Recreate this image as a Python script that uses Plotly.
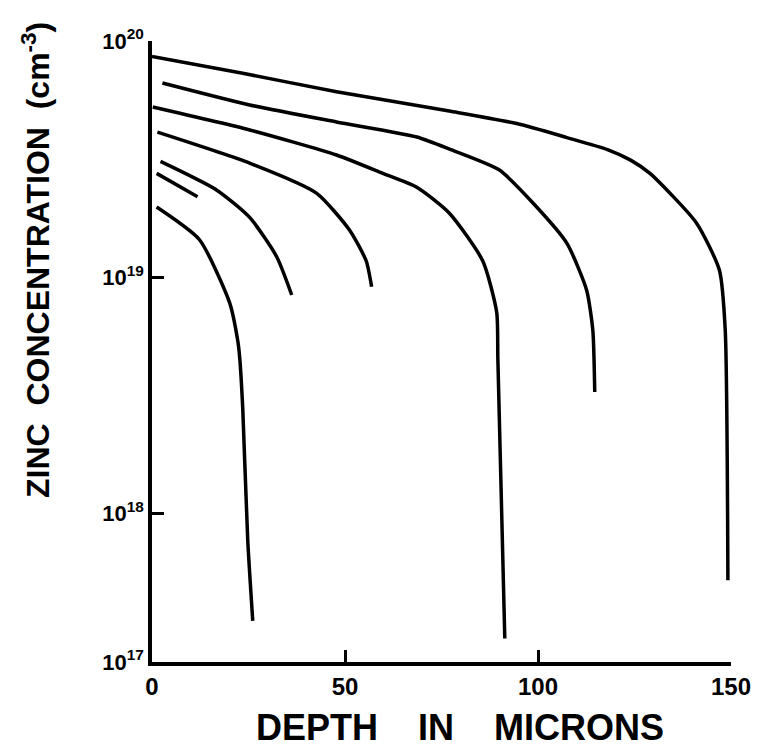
import plotly.graph_objects as go

# Depth (microns) and zinc concentration (cm^-3)
c1_x = [0, 23.5, 47.8, 77, 94.5, 107.5, 118, 124, 129, 141, 147, 148.5, 149.2]
c1_y = [8.6e19, 7.3e19, 6.1e19, 5.05e19, 4.47e19, 3.9e19, 3.47e19, 3.13e19, 2.75e19, 1.7e19, 1.07e19, 6.0e18, 5.2e17]

c2_x = [2.7, 25.3, 47.8, 68.6, 77.1, 90, 98.7, 107.5, 112.6, 114.2, 114.7]
c2_y = [6.64e19, 5.36e19, 4.54e19, 3.92e19, 3.48e19, 2.84e19, 2.06e19, 1.39e19, 8.8e18, 5.96e18, 3.26e18]

c3_x = [0.2, 25.3, 47.8, 59.8, 68.6, 77.1, 85.7, 89.3, 89.6, 91.4]
c3_y = [5.25e19, 4.2e19, 3.29e19, 2.75e19, 2.4e19, 1.86e19, 1.17e19, 7.1e18, 4.5e18, 2.95e17]

c4_x = [1.4, 25.3, 42.6, 51.2, 55.5, 56.9]
c4_y = [4.11e19, 3.04e19, 2.27e19, 1.58e19, 1.17e19, 9.1e18]

c5_x = [2.2, 16.7, 25.3, 32.3, 36.2]
c5_y = [3.09e19, 2.34e19, 1.79e19, 1.22e19, 8.4e18]

c6_x = [1.2, 11.8]
c6_y = [2.75e19, 2.19e19]

c7_x = [1.2, 12.3, 20.1, 22.2, 22.7, 23.5, 24.8, 26.1]
c7_y = [1.98e19, 1.44e19, 7.8e18, 5.4e18, 4.6e18, 2.8e18, 7.7e17, 3.5e17]

curves = [(c1_x, c1_y), (c2_x, c2_y), (c3_x, c3_y), (c4_x, c4_y),
          (c5_x, c5_y), (c6_x, c6_y), (c7_x, c7_y)]

y_bottom_log = 17.37
y_tick_vals = [10 ** y_bottom_log, 1e18, 1e19, 1e20]
y_tick_text = ["<b>10<sup>17</sup></b>", "<b>10<sup>18</sup></b>",
               "<b>10<sup>19</sup></b>", "<b>10<sup>20</sup></b>"]
x_tick_vals = [0, 50, 100, 150]
x_tick_text = ["<b>0</b>", "<b>50</b>", "<b>100</b>", "<b>150</b>"]

fig = go.Figure()
for xs, ys in curves:
    fig.add_trace(go.Scatter(x=xs, y=ys, mode="lines",
                             line=dict(color="black", width=3.5, shape="spline", smoothing=0.6),
                             showlegend=False, hoverinfo="skip"))

font_family = "Liberation Sans, Arial, sans-serif"
# the page body adds an 8px offset, so the figure is 8px smaller and shifted
OFF = 8
W, H = 759 - OFF, 756 - OFF
L, R, T, B = 152 - OFF, 28, 41 - OFF, 94
PW, PH = W - L - R, H - T - B
bottom_px = H - B  # figure-space y of the x axis


def px_x(page_x):
    return (page_x - OFF - L) / PW


def px_y(page_y):
    return (bottom_px - (page_y - OFF)) / PH


fig.update_layout(
    width=W, height=H,
    margin=dict(l=L, r=R, t=T, b=B, autoexpand=False),
    paper_bgcolor="white", plot_bgcolor="white",
    xaxis=dict(range=[0, 150], showgrid=False, zeroline=False, automargin=False,
               showline=True, linecolor="black", linewidth=3.5,
               ticks="inside", ticklen=12, tickwidth=3, tickcolor="black",
               tickvals=x_tick_vals, ticktext=x_tick_text,
               tickfont=dict(family=font_family, size=24, color="black")),
    yaxis=dict(type="log", range=[y_bottom_log, 20], showgrid=False, zeroline=False, automargin=False,
               showline=True, linecolor="black", linewidth=3.5,
               ticks="inside", ticklen=12, tickwidth=3, tickcolor="black",
               tickvals=y_tick_vals, ticktext=y_tick_text,
               tickfont=dict(family=font_family, size=22, color="black")),
    annotations=[
        dict(text="<b>DEPTH&nbsp;&nbsp;&nbsp;&nbsp;IN&nbsp;&nbsp;&nbsp;&nbsp;MICRONS</b>",
             xref="paper", yref="paper", x=px_x(460), y=px_y(727),
             showarrow=False, xanchor="center", yanchor="middle",
             font=dict(family=font_family, size=36, color="black")),
        dict(text="<b>ZINC&nbsp;&nbsp;CONCENTRATION&nbsp;&nbsp;(cm<sup>-3</sup>)</b>",
             xref="paper", yref="paper", x=px_x(36), y=px_y(260),
             showarrow=False, xanchor="center", yanchor="middle", textangle=-90,
             font=dict(family=font_family, size=32, color="black")),
    ],
)

fig.write_html("out.html")
